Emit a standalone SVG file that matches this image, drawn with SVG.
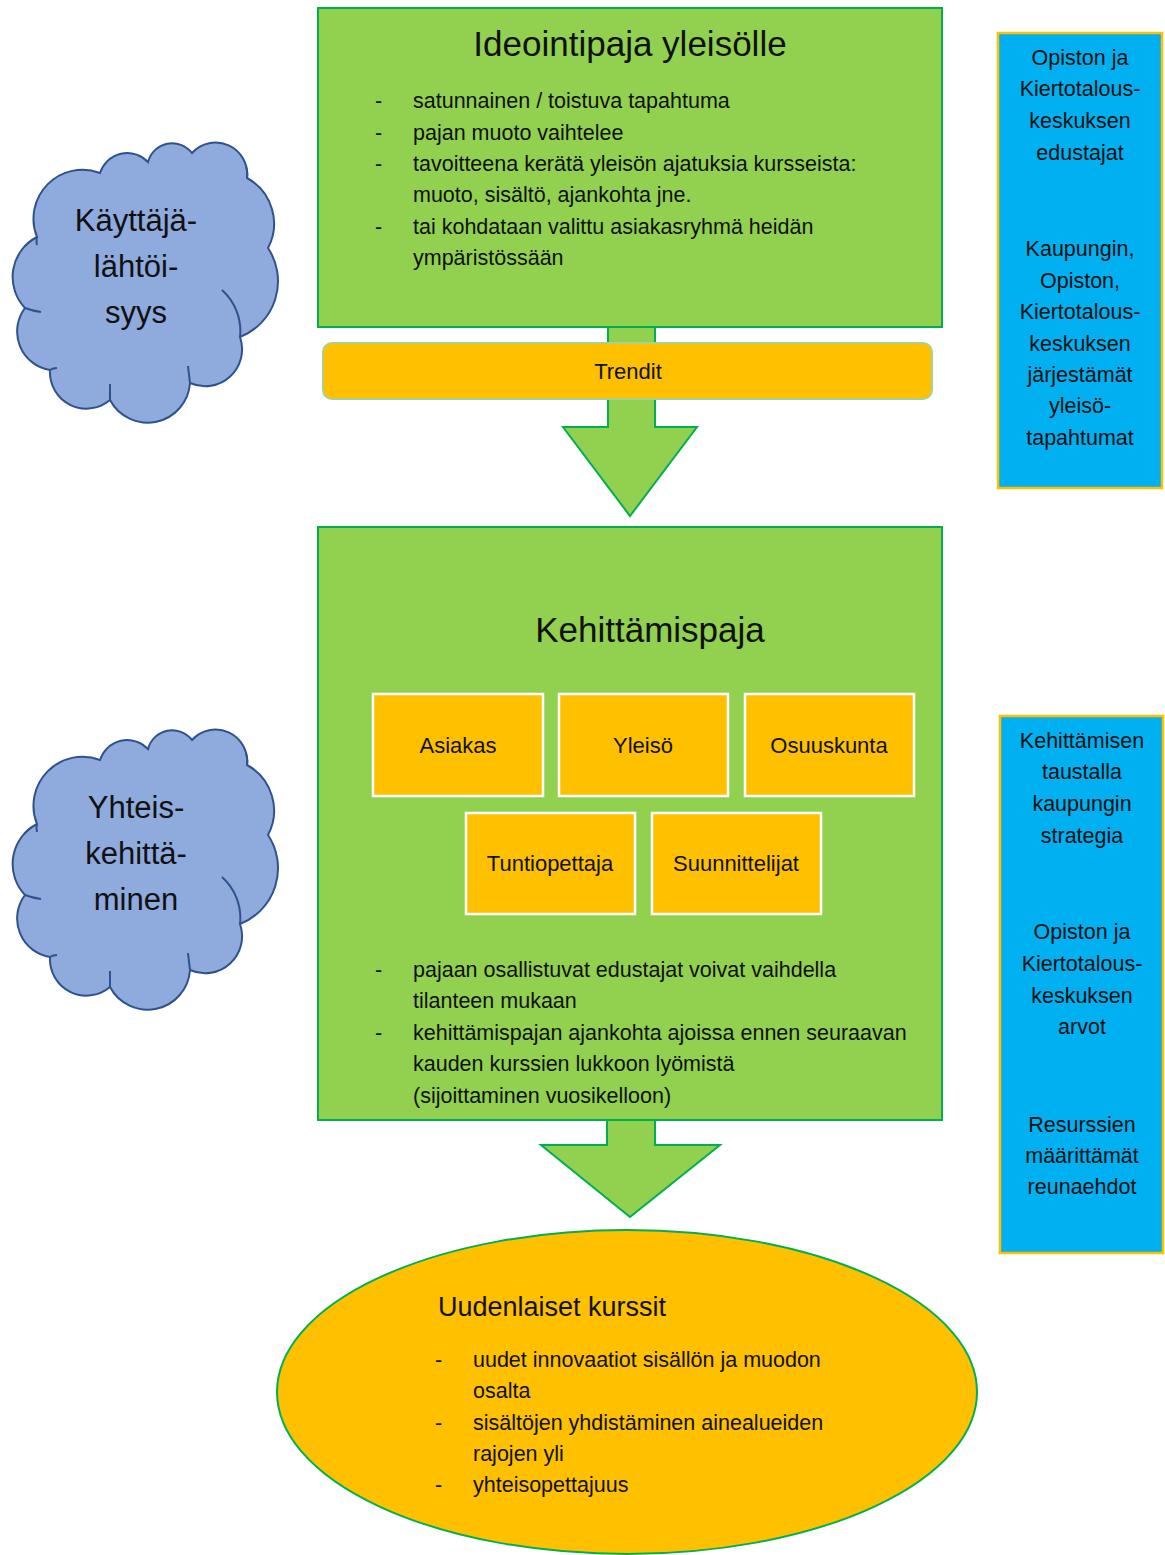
<svg xmlns="http://www.w3.org/2000/svg" width="1165" height="1555" viewBox="0 0 1165 1555">
<defs>
<style>
text{font-family:"Liberation Sans",Arial,sans-serif;fill:#111;}
.green{fill:#92D050;stroke:#00B050;stroke-width:2;}
.arrowfill{fill:#92D050;stroke:none;}
.arrowline{fill:none;stroke:#00B050;stroke-width:2;stroke-linejoin:miter;}
.orange{fill:#FFC000;stroke:#FFFFFF;stroke-width:2.5;}
.blue{fill:#00B0F0;stroke:#FFC000;stroke-width:2.5;}
.cloud{fill:#8FAADC;stroke:#2F528F;stroke-width:2;}
.cloudin{fill:none;stroke:#2F528F;stroke-width:2;}
.t{font-size:21.5px;}
.title{font-size:35px;text-anchor:middle;}
.cl{font-size:31px;text-anchor:middle;}
.bx{font-size:22px;text-anchor:middle;}
.bl{font-size:21.5px;text-anchor:middle;}
</style>
<path id="cloudshape" d="M37,237 A49,49 0 0 1 100,173 A28.6,28.6 0 0 1 148,162 A25,25 0 0 1 192,153 A31.7,31.7 0 0 1 247,178 A52,52 0 0 1 268,248 A60,60 0 0 1 240,337 A37,37 0 0 1 190,383 A42.5,42.5 0 0 1 110,400 A36.5,36.5 0 0 1 50,370 A39,39 0 0 1 25,308 A45,45 0 0 1 37,237 Z"/>
<path id="cloudhooks" d="M222,290 A55,55 0 0 1 240,337 M188,366 Q189,375 190,383 M110,384 Q110,392 110,400 M25,308 Q33,311 41,312 M50,370 Q53,368 57,368 M37,237 Q36,241 37,245 M247,178 Q248,172 246,167"/>
</defs>

<g id="connectors">
<g id="arrow1">
<path class="arrowfill" d="M608,320 V427 H563 L630,516 L697,427 H655 V320 Z"/>
<path class="arrowline" d="M608,327 V427 H563 L630,516 L697,427 H655 V327"/>
</g>
<g id="arrow2">
<path class="arrowfill" d="M607,1113 V1145 H541 L630,1217 L720,1145 H655 V1113 Z"/>
<path class="arrowline" d="M607,1120 V1145 H541 L630,1217 L720,1145 H655 V1120"/>
</g>
</g>

<g id="ideointipaja">
<rect class="green" x="318" y="8" width="624" height="319"/>
<text class="title" x="630" y="56">Ideointipaja yleisölle</text>
<text class="t" x="375" y="108">-</text><text class="t" x="413" y="108">satunnainen / toistuva tapahtuma</text>
<text class="t" x="375" y="140">-</text><text class="t" x="413" y="140">pajan muoto vaihtelee</text>
<text class="t" x="375" y="171">-</text><text class="t" x="413" y="171">tavoitteena kerätä yleisön ajatuksia kursseista:</text>
<text class="t" x="413" y="202">muoto, sisältö, ajankohta jne.</text>
<text class="t" x="375" y="234">-</text><text class="t" x="413" y="234">tai kohdataan valittu asiakasryhmä heidän</text>
<text class="t" x="413" y="265">ympäristössään</text>
</g>

<g id="trendit">
<rect x="323" y="343" width="609" height="56" rx="9" ry="9" fill="#FFC000" stroke="#A9D18E" stroke-width="2"/>
<text class="bx" x="628" y="379">Trendit</text>
</g>

<g id="kehittamispaja">
<rect class="green" x="318" y="527" width="624" height="593"/>
<text class="title" x="650" y="642">Kehittämispaja</text>
<text class="t" x="375" y="977">-</text><text class="t" x="413" y="977">pajaan osallistuvat edustajat voivat vaihdella</text>
<text class="t" x="413" y="1008">tilanteen mukaan</text>
<text class="t" x="375" y="1040">-</text><text class="t" x="413" y="1040">kehittämispajan ajankohta ajoissa ennen seuraavan</text>
<text class="t" x="413" y="1071">kauden kurssien lukkoon lyömistä</text>
<text class="t" x="413" y="1103">(sijoittaminen vuosikelloon)</text>
</g>

<g id="asiakas"><rect class="orange" x="373" y="694" width="170" height="102"/><text class="bx" x="458" y="753">Asiakas</text></g>
<g id="yleiso"><rect class="orange" x="559" y="694" width="169" height="102"/><text class="bx" x="643" y="753">Yleisö</text></g>
<g id="osuuskunta"><rect class="orange" x="745" y="694" width="169" height="102"/><text class="bx" x="829" y="753">Osuuskunta</text></g>
<g id="tuntiopettaja"><rect class="orange" x="466" y="813" width="169" height="101"/><text class="bx" x="550" y="871">Tuntiopettaja</text></g>
<g id="suunnittelijat"><rect class="orange" x="652" y="813" width="169" height="101"/><text class="bx" x="736" y="871">Suunnittelijat</text></g>

<g id="uudenlaiset-kurssit">
<ellipse cx="627" cy="1392" rx="350" ry="162" fill="#FFC000" stroke="#00B050" stroke-width="2"/>
<text x="438" y="1316" style="font-size:27px;">Uudenlaiset kurssit</text>
<text class="t" x="435" y="1367">-</text><text class="t" x="473" y="1367">uudet innovaatiot sisällön ja muodon</text>
<text class="t" x="473" y="1398">osalta</text>
<text class="t" x="435" y="1430">-</text><text class="t" x="473" y="1430">sisältöjen yhdistäminen ainealueiden</text>
<text class="t" x="473" y="1461">rajojen yli</text>
<text class="t" x="435" y="1492">-</text><text class="t" x="473" y="1492">yhteisopettajuus</text>
</g>

<g id="kayttajalahtoisyys">
<use href="#cloudshape" class="cloud"/>
<use href="#cloudhooks" class="cloudin"/>
<text class="cl" x="136" y="231">Käyttäjä-</text>
<text class="cl" x="136" y="277">lähtöi-</text>
<text class="cl" x="136" y="323">syys</text>
</g>

<g id="yhteiskehittaminen">
<g transform="translate(0,587)">
<use href="#cloudshape" class="cloud"/>
<use href="#cloudhooks" class="cloudin"/>
</g>
<text class="cl" x="136" y="818">Yhteis-</text>
<text class="cl" x="136" y="864">kehittä-</text>
<text class="cl" x="136" y="910">minen</text>
</g>

<g id="toimijat">
<rect class="blue" x="998" y="33" width="164" height="455"/>
<text class="bl" x="1080" y="65">Opiston ja</text>
<text class="bl" x="1080" y="96">Kiertotalous-</text>
<text class="bl" x="1080" y="128">keskuksen</text>
<text class="bl" x="1080" y="160">edustajat</text>
<text class="bl" x="1080" y="256">Kaupungin,</text>
<text class="bl" x="1080" y="288">Opiston,</text>
<text class="bl" x="1080" y="319">Kiertotalous-</text>
<text class="bl" x="1080" y="351">keskuksen</text>
<text class="bl" x="1080" y="382">järjestämät</text>
<text class="bl" x="1080" y="413">yleisö-</text>
<text class="bl" x="1080" y="445">tapahtumat</text>
</g>

<g id="reunaehdot">
<rect class="blue" x="1000" y="716" width="163" height="537"/>
<text class="bl" x="1082" y="748">Kehittämisen</text>
<text class="bl" x="1082" y="779">taustalla</text>
<text class="bl" x="1082" y="811">kaupungin</text>
<text class="bl" x="1082" y="843">strategia</text>
<text class="bl" x="1082" y="939">Opiston ja</text>
<text class="bl" x="1082" y="971">Kiertotalous-</text>
<text class="bl" x="1082" y="1003">keskuksen</text>
<text class="bl" x="1082" y="1034">arvot</text>
<text class="bl" x="1082" y="1132">Resurssien</text>
<text class="bl" x="1082" y="1163">määrittämät</text>
<text class="bl" x="1082" y="1194">reunaehdot</text>
</g>
</svg>
